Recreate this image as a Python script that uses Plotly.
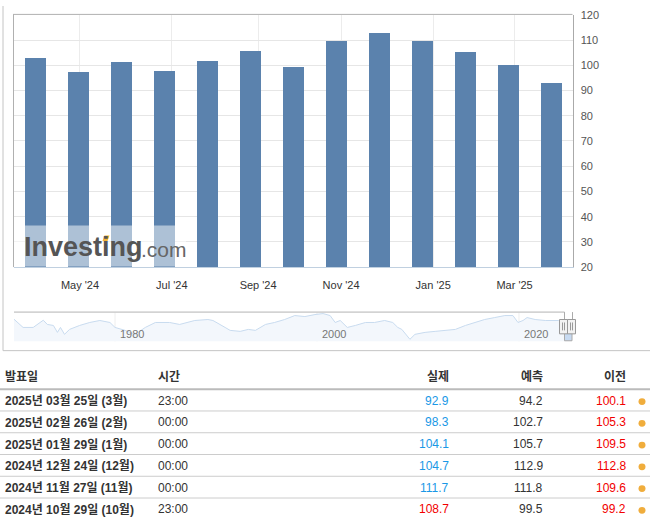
import numpy as np
import pandas as pd
import plotly.graph_objects as go

# ---------------- data ----------------
release_dates = ["2024-03-26", "2024-04-30", "2024-05-28", "2024-06-25", "2024-07-30",
                 "2024-08-27", "2024-09-24", "2024-10-29", "2024-11-26", "2024-12-23",
                 "2025-01-28", "2025-02-25", "2025-03-25"]
index_values = [103.1, 97.5, 101.3, 97.8, 101.9, 105.6, 99.2, 109.6, 112.8, 109.5, 105.3, 100.1, 92.9]

tick_dates = ["2024-05-01", "2024-07-01", "2024-09-01", "2024-11-01", "2025-01-01", "2025-03-01"]
tick_labels = ["May '24", "Jul '24", "Sep '24", "Nov '24", "Jan '25", "Mar '25"]
y_ticks = [20, 30, 40, 50, 60, 70, 80, 90, 100, 110, 120]

nav_years = [1970.0, 1970.9, 1971.9, 1972.9, 1973.3, 1973.9, 1974.3, 1974.6, 1975.0, 1975.5,
             1976.5, 1977.5, 1978.5, 1979.5, 1980.0, 1981.0, 1982.0, 1983.0, 1984.0, 1985.4,
             1986.4, 1987.9, 1989.2, 1989.7, 1990.9, 1991.4, 1992.4, 1993.2, 1993.9, 1994.9,
             1995.8, 1996.8, 1997.8, 1998.8, 1999.8, 2000.6, 2001.3, 2001.8, 2002.3, 2003.0,
             2003.8, 2004.8, 2005.7, 2006.7, 2007.5, 2008.0, 2008.4, 2009.2, 2009.7, 2010.7,
             2011.7, 2012.7, 2013.7, 2014.7, 2015.6, 2016.6, 2017.6, 2018.6, 2019.4, 2019.9,
             2020.4, 2020.8, 2021.6, 2022.6, 2023.9, 2025.15]
nav_values = [118.5, 80.4, 80.4, 113.9, 94.2, 89.6, 57.5, 80.4, 48.3, 71.3,
              89.6, 103.4, 112.6, 103.4, 80.4, 66.7, 48.3, 80.4, 103.4, 103.4,
              94.2, 112.6, 117.2, 112.6, 80.4, 66.7, 62.1, 71.3, 66.7, 94.2,
              103.4, 117.2, 135.5, 130.9, 140.1, 144.7, 135.5, 103.4, 112.6, 80.4,
              89.6, 103.4, 103.4, 112.6, 103.4, 80.4, 71.3, 25.3, 48.3, 57.5,
              62.1, 66.7, 71.3, 89.6, 103.4, 117.2, 126.3, 135.5, 135.5, 103.4,
              112.6, 126.3, 117.2, 112.6, 112.6, 108.0]
nav_tick_years = [1980, 2000, 2020]

table_headers = ["발표일", "시간", "실제", "예측", "이전"]
rel_dates_kr = ["2025년 03월 25일 (3월)", "2025년 02월 26일 (2월)", "2025년 01월 29일 (1월)",
                "2024년 12월 24일 (12월)", "2024년 11월 27일 (11월)", "2024년 10월 29일 (10월)"]
rel_times = ["23:00", "00:00", "00:00", "00:00", "00:00", "23:00"]
actual = [92.9, 98.3, 104.1, 104.7, 111.7, 108.7]
forecast = [94.2, 102.7, 105.7, 112.9, 111.8, 99.5]
previous = [100.1, 105.3, 109.5, 112.8, 109.6, 99.2]

# ---------------- helpers ----------------
W, H = 650, 524
Y_SCALE = 0.988   # vertical calibration of the photographed page


def P(x):
    return x / W


def Q(y):
    return 1 - (y / Y_SCALE) / H


BAR = "#5b82ad"
BLUE = "#1a98e6"
RED = "#f20000"
FONT = "Arial, 'Noto Sans CJK KR', sans-serif"

rel_ord = pd.to_datetime(release_dates).map(pd.Timestamp.toordinal).to_numpy(dtype=float)
tick_ord = pd.to_datetime(tick_dates).map(pd.Timestamp.toordinal).to_numpy(dtype=float)
bar_x = np.arange(len(index_values))
tick_pos = np.interp(tick_ord, rel_ord, bar_x)

fig = go.Figure()
fig.add_trace(go.Bar(x=bar_x, y=index_values, width=0.49, marker=dict(color=BAR, line=dict(width=0)),
                     xaxis="x", yaxis="y", hoverinfo="skip"))
fig.add_trace(go.Scatter(x=nav_years, y=nav_values, mode="lines",
                         line=dict(color="#c8dbef", width=1), fill="tozeroy", fillcolor="#f3f7fc",
                         xaxis="x2", yaxis="y2", hoverinfo="skip"))

shapes = []
annotations = []

# chart container lines
shapes.append(dict(type="line", xref="paper", yref="paper", x0=P(3), x1=P(3), y0=1, y1=Q(348.5),
                   line=dict(color="#c4c4c4", width=1)))
shapes.append(dict(type="line", xref="paper", yref="paper", x0=P(3), x1=P(650), y0=Q(348.5), y1=Q(348.5),
                   line=dict(color="#c4c4c4", width=1)))
# plot border top/left
shapes.append(dict(type="line", xref="paper", yref="paper", x0=P(13), x1=P(572.5), y0=Q(8.5), y1=Q(8.5),
                   line=dict(color="#b0b0b0", width=1)))
shapes.append(dict(type="line", xref="paper", yref="paper", x0=P(13.5), x1=P(13.5), y0=Q(8.5), y1=Q(264),
                   line=dict(color="#b0b0b0", width=1)))

# watermark
shapes.append(dict(type="rect", xref="paper", yref="paper", x0=P(14), x1=P(186), y0=Q(263.5), y1=Q(222),
                   fillcolor="rgba(255,255,255,0.5)", line=dict(width=0), layer="above"))
annotations.append(dict(xref="paper", yref="paper", x=P(22), y=Q(244), xanchor="left", yanchor="middle",
                        text="<b>Investing</b>", showarrow=False,
                        font=dict(family="Arial", size=27, color="#555555")))
annotations.append(dict(xref="paper", yref="paper", x=P(139), y=Q(246), xanchor="left", yanchor="middle",
                        text=".com", showarrow=False,
                        font=dict(family="Arial", size=21, color="#666666")))
accent = [(102.5, 237.5), (104.5, 232), (109.5, 232), (107.5, 237.5)]
accent_path = "M " + " L ".join(f"{P(ax):.5f},{Q(ay):.5f}" for ax, ay in accent) + " Z"
shapes.append(dict(type="path", xref="paper", yref="paper", path=accent_path,
                   fillcolor="#f5b335", line=dict(width=0), layer="above"))

# navigator decorations
shapes.append(dict(type="line", xref="paper", yref="paper", x0=P(14), x1=P(564.5), y0=Q(309.5), y1=Q(309.5),
                   line=dict(color="#b4b4b4", width=1)))
for yr in nav_tick_years:
    shapes.append(dict(type="line", xref="x2", yref="paper", x0=yr, x1=yr, y0=Q(310), y1=Q(339),
                       line=dict(color="#eeeeee", width=1), layer="below"))
    annotations.append(dict(xref="x2", yref="paper", x=yr, y=Q(332), xanchor="left", yanchor="middle",
                            xshift=3, text=str(yr), showarrow=False,
                            font=dict(family="Arial", size=11, color="#777777")))
# selected range + handles
shapes.append(dict(type="rect", xref="paper", yref="paper", x0=P(564.5), x1=P(572), y0=Q(338.5), y1=Q(331),
                   fillcolor="#c7daf1", line=dict(color="#aaaaaa", width=1)))
for xv in (564.5, 572.5):
    shapes.append(dict(type="line", xref="paper", yref="paper", x0=P(xv), x1=P(xv), y0=Q(309.5), y1=Q(317),
                       line=dict(color="#aaaaaa", width=1)))
for hx0 in (559.5, 567.5):
    shapes.append(dict(type="rect", xref="paper", yref="paper", x0=P(hx0), x1=P(hx0 + 8), y0=Q(331.5), y1=Q(317),
                       fillcolor="#f2f2f2", line=dict(color="#999999", width=1)))
    for dx in (3, 5):
        shapes.append(dict(type="line", xref="paper", yref="paper", x0=P(hx0 + dx), x1=P(hx0 + dx),
                           y0=Q(328), y1=Q(320), line=dict(color="#999999", width=1)))

# ---------------- table ----------------
col_left = {0: 3, 1: 156}
col_right = {2: 451, 3: 545, 4: 628}
head_y = 375
for i, h in enumerate(table_headers):
    if i in col_left:
        annotations.append(dict(xref="paper", yref="paper", x=P(col_left[i]), y=Q(head_y), xanchor="left",
                                yanchor="middle", text=f"<b>{h}</b>", showarrow=False,
                                font=dict(family=FONT, size=12, color="#333333")))
    else:
        annotations.append(dict(xref="paper", yref="paper", x=P(col_right[i]), y=Q(head_y), xanchor="right",
                                yanchor="middle", text=f"<b>{h}</b>", showarrow=False,
                                font=dict(family=FONT, size=12, color="#333333")))
shapes.append(dict(type="line", xref="paper", yref="paper", x0=0, x1=1, y0=Q(387.5), y1=Q(387.5),
                   line=dict(color="#bbbbbb", width=2)))

row_y0, row_h = 399, 22
for r in range(len(rel_dates_kr)):
    yc = row_y0 + r * row_h
    a_color = BLUE if actual[r] < forecast[r] else RED
    cells = [
        (col_left[0], "left", f"<b>{rel_dates_kr[r]}</b>", "#333333"),
        (col_left[1], "left", rel_times[r], "#333333"),
        (col_right[2], "right", f"{actual[r]:.1f}", a_color),
        (col_right[3], "right", f"{forecast[r]:.1f}", "#333333"),
        (col_right[4], "right", f"{previous[r]:.1f}", RED),
    ]
    for cx, anc, txt, colr in cells:
        annotations.append(dict(xref="paper", yref="paper", x=P(cx), y=Q(yc), xanchor=anc, yanchor="middle",
                                text=txt, showarrow=False, font=dict(family=FONT, size=12, color=colr)))
    shapes.append(dict(type="circle", xref="paper", yref="paper", x0=P(638.5), x1=P(645.5),
                       y0=Q(yc + 4.5), y1=Q(yc - 2.5), fillcolor="#f0ad3c", line=dict(width=0)))
    if r < len(rel_dates_kr) - 1:
        shapes.append(dict(type="line", xref="paper", yref="paper", x0=0, x1=1,
                           y0=Q(yc + 10.5), y1=Q(yc + 10.5), line=dict(color="#cccccc", width=1)))

fig.update_layout(
    width=W, height=H, margin=dict(l=0, r=0, t=0, b=0),
    paper_bgcolor="white", plot_bgcolor="white", showlegend=False, bargap=0,
    xaxis=dict(domain=[P(13.5), P(572.5)], range=[-0.51, 12.49], anchor="y",
               tickvals=tick_pos, ticktext=tick_labels, showgrid=True, gridcolor="#ececec",
               showline=True, linecolor="#c0d0e0", linewidth=1, ticks="", zeroline=False,
               ticklabelstandoff=8, tickfont=dict(family="Arial", size=11, color="#333333")),
    yaxis=dict(domain=[Q(264), Q(9)], range=[20, 120], anchor="x", side="right",
               tickvals=y_ticks, showgrid=True, gridcolor="#e6e6e6", zeroline=False,
               showline=True, linecolor="#aaaaaa", linewidth=1, ticks="",
               ticklabelstandoff=5, tickfont=dict(family="Arial", size=11, color="#555555")),
    xaxis2=dict(domain=[P(14), P(571)], range=[1970, 2025.15], anchor="y2", visible=False),
    yaxis2=dict(domain=[Q(339), Q(309)], range=[16.2, 153.9], anchor="x2", visible=False),
    shapes=shapes, annotations=annotations,
)

fig.write_html("out.html", config={"displayModeBar": False},
               post_script="document.body.style.margin='0';document.body.style.overflow='hidden';")
